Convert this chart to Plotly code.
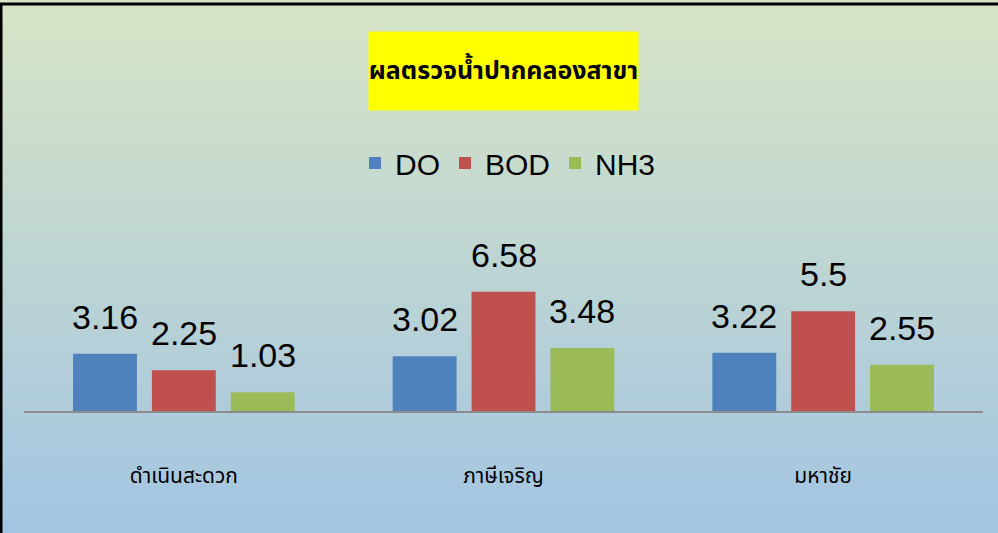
import plotly.graph_objects as go

# data
categories = ["ดำเนินสะดวก", "ภาษีเจริญ", "มหาชัย"]
series_names = ["DO", "BOD", "NH3"]
do_values = [3.16, 3.02, 3.22]
bod_values = [2.25, 6.58, 5.5]
nh3_values = [1.03, 3.48, 2.55]
title_text = "ผลตรวจน้ำปากคลองสาขา"

colors = ["#4F81BD", "#C0504D", "#9BBB59"]
FONT = "Liberation Sans, Arial, sans-serif"
THAI_FONT = "Noto Sans Thai, Loma, Garuda, Tahoma, sans-serif"

W, H = 998, 533
L, R, T, B = 24, 15, 266, 122
plot_w = W - L - R
plot_h = H - T - B
BARGAP, GROUPGAP = 0.26, 0.19


def py(px):
    # pixel row -> paper y
    return 1 - (px - T) / plot_h


def px_x(px):
    return (px - L) / plot_w


fig = go.Figure()
for name, vals, col in zip(series_names, [do_values, bod_values, nh3_values], colors):
    fig.add_trace(go.Bar(x=categories, y=vals, name=name, marker_color=col,
                         marker_line_width=0))

# data labels above bars
slot = plot_w / len(categories) * (1 - BARGAP) / len(series_names)
for i, vals in enumerate([do_values, bod_values, nh3_values]):
    for cat, v in zip(categories, vals):
        fig.add_annotation(x=cat, y=v, xref="x", yref="y", text=str(v),
                           showarrow=False, yanchor="bottom",
                           xshift=(i - 1) * slot, yshift=16,
                           font=dict(family=FONT, size=34, color="black"))

# title box
fig.add_annotation(x=px_x(503.5), y=py(71), xref="paper", yref="paper",
                   xanchor="center", yanchor="middle",
                   text="<b>" + title_text + "</b>", showarrow=False,
                   bgcolor="#FFFF00", width=267, height=76,
                   font=dict(family=THAI_FONT, size=25, color="black"))

# gradient background
top_c = (215, 228, 197)
bot_c = (163, 197, 226)
n = 80
for k in range(n):
    t = k / (n - 1)
    c = tuple(round(a + (b - a) * t) for a, b in zip(top_c, bot_c))
    y0 = H * k / n
    y1 = H * (k + 1) / n + 1
    fig.add_shape(type="rect", xref="paper", yref="paper",
                  x0=px_x(-5), x1=px_x(W + 5), y0=py(y0), y1=py(y1),
                  fillcolor="rgb(%d,%d,%d)" % c, line_width=0, layer="below")

# frame lines
fig.add_shape(type="line", xref="paper", yref="paper", x0=px_x(0), x1=px_x(W + 5),
              y0=py(4), y1=py(4), line=dict(color="black", width=3))
fig.add_shape(type="line", xref="paper", yref="paper", x0=px_x(1), x1=px_x(1),
              y0=py(3), y1=py(H + 5), line=dict(color="black", width=3))

fig.update_layout(
    width=W, height=H,
    margin=dict(l=L, r=R, t=T, b=B),
    paper_bgcolor="#BFD6D6",
    plot_bgcolor="rgba(0,0,0,0)",
    barmode="group", bargap=BARGAP, bargroupgap=GROUPGAP,
    showlegend=True,
    legend=dict(orientation="h", x=px_x(508), xanchor="center", y=py(163), yanchor="middle",
                font=dict(family=FONT, size=30, color="black"),
                bgcolor="rgba(0,0,0,0)", itemclick=False),
    xaxis=dict(showline=True, linecolor="#8C8C8C", linewidth=2, ticks="",
               tickfont=dict(family=THAI_FONT, size=21, color="black"),
               ticklabelstandoff=45, fixedrange=True),
    yaxis=dict(range=[0, 8], showgrid=False, zeroline=False, showticklabels=False,
               fixedrange=True),
)

fig.write_html("out.html", config={"displayModeBar": False},
               post_script="document.body.style.margin='0';")
